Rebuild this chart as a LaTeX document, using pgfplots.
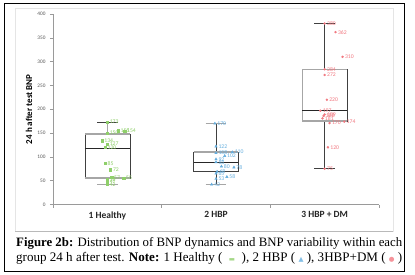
\documentclass[border=0pt]{standalone}
\usepackage{pgfplots}
\pgfplotsset{compat=1.18}
\usepackage{pgfplotstable}
\usepackage{fontspec}
\setmainfont{Carlito}
\newfontfamily\capfont{Liberation Serif}
\newfontfamily\symfont{DejaVu Sans}
\definecolor{hgreen}{HTML}{8FCF6A}
\definecolor{hblue}{HTML}{64AEDF}
\definecolor{hred}{HTML}{F27880}
\definecolor{boxdark}{HTML}{404040}
\definecolor{boxgray}{HTML}{A6A6A6}
\definecolor{axgray}{HTML}{9A9A9A}
\definecolor{tickgray}{HTML}{595959}

\pgfplotstableread{
x y lab
1.00 173 173
1.00 150 150
1.10 155 155
1.16 154 154
0.95 134 134
1.00 127 127
0.98 120 120
0.98 86 85
1.03 73 72
1.04 57 57
1.15 56 55
1.00 52 52
1.00 47 47
1.00 42 42
}\healthy

\pgfplotstableread{
x y lab
1.99 170 170
2.00 122 122
2.15 110 110
2.00 108 108
2.08 102 102
2.00 95 92
2.00 89 88
2.05 80 80
2.165 78 78
2.01 69 68
2.00 65 65
2.10 58 58
2.00 54 53
1.96 42 42
}\hbp

\pgfplotstableread{
x y lab
3.00 380 380
3.10 362 362
3.165 310 310
3.00 284 284
3.00 272 272
3.02 220 220
2.96 197 197
3.00 189 189
2.99 186 188
2.98 181 181
3.18 174 174
3.045 171 170
3.03 120 120
3.00 75 75
}\hbpdm

\begin{document}
\begin{tikzpicture}
\useasboundingbox (0pt,0pt) rectangle (415pt,274pt);
\fill[white] (0pt,0pt) rectangle (415pt,274pt);
\draw[gray!20, line width=0.5pt] (15pt,43pt) rectangle (393pt,266pt);
\draw[gray!55, line width=0.6pt] (15pt,43pt) -- (393pt,43pt);
\draw[black, line width=0.9pt] (4pt,3pt) rectangle (404pt,271pt);

\begin{axis}[
  at={(53pt,69.5pt)}, anchor=south west,
  scale only axis, width=326pt, height=190.5pt,
  xmin=0.5, xmax=3.5, ymin=0, ymax=400,
  axis lines*=left,
  axis line style={axgray, line width=0.5pt},
  ytick={0,50,...,400},
  xtick={1,2,3},
  xticklabels={1 Healthy, 2 HBP, 3 HBP + DM},
  minor xtick={0.5,1.5,2.5,3.5},
  tick align=outside,
  major tick length=3pt, minor tick length=3pt,
  tick style={axgray, line width=0.5pt},
  major x tick style={draw=none},
  /pgf/number format/assume math mode=true,
  yticklabel style={font=\fontsize{5.3}{6}\selectfont, text=tickgray, xshift=-1pt},
  xticklabel style={font=\bfseries\fontsize{9.5}{10}\selectfont, text=black!85, yshift=-0.5pt},
  ylabel={24 h after test BNP},
  ylabel style={at={(axis description cs:-0.0736,0.5)}, anchor=center, font=\bfseries\fontsize{9}{10}\selectfont},
  clip=false,
]
% whiskers (vertical)
\addplot[boxdark, line width=0.6pt] coordinates {(1,42) (1,55)};
\addplot[boxgray, line width=1.4pt] coordinates {(1,148) (1,173)};
\addplot[boxdark, line width=0.6pt] coordinates {(2,42) (2,69)};
\addplot[boxdark, line width=0.6pt] coordinates {(2,110) (2,170)};
\addplot[boxdark, line width=0.6pt] coordinates {(3,75) (3,175)};
\addplot[boxdark, line width=0.6pt] coordinates {(3,284) (3,380)};
% caps
\addplot[boxdark, line width=0.7pt] coordinates {(0.905,173) (1.095,173)};
\addplot[boxgray, line width=1.4pt] coordinates {(0.905,42) (1.095,42)};
\addplot[boxgray, line width=1.4pt] coordinates {(1.905,170) (2.095,170)};
\addplot[boxgray, line width=1.4pt] coordinates {(1.905,42) (2.095,42)};
\addplot[boxdark, line width=0.7pt] coordinates {(2.905,380) (3.095,380)};
\addplot[boxdark, line width=0.7pt] coordinates {(2.905,75) (3.095,75)};
% boxes
\addplot[boxdark, line width=0.6pt] coordinates {(0.793,55) (1.207,55) (1.207,148) (0.793,148) (0.793,55)};
\addplot[boxdark, line width=0.6pt] coordinates {(1.793,69) (2.207,69) (2.207,110) (1.793,110) (1.793,69)};
\addplot[boxdark, line width=0.6pt] coordinates {(2.793,175) (3.207,175) (3.207,284) (2.793,284) (2.793,175)};
% gray edges
\addplot[boxgray, line width=1.4pt] coordinates {(0.793,148) (1.207,148)};
\addplot[boxgray, line width=1.2pt] coordinates {(0.793,55.8) (1.207,55.8)};
\addplot[boxgray, line width=1.4pt] coordinates {(1.793,110) (2.207,110)};
\addplot[boxgray, line width=1.4pt] coordinates {(2.793,284) (3.207,284)};
\addplot[boxgray, line width=1.4pt] coordinates {(2.793,175) (3.207,175)};
\addplot[boxgray, line width=1.0pt] coordinates {(2.793,175) (2.793,284)};
% medians
\addplot[black!85, line width=1.1pt] coordinates {(0.793,118) (1.207,118)};
\addplot[black!85, line width=1.0pt] coordinates {(1.793,89) (2.207,89)};
\addplot[black!85, line width=1.0pt] coordinates {(2.793,198) (3.207,198)};
% points
\addplot[only marks, mark=square*, mark size=1.1pt, color=hgreen,
  nodes near coords, point meta=explicit symbolic,
  every node near coord/.append style={anchor=west, xshift=2pt, font=\fontsize{5.7}{6}\selectfont, text=hgreen, inner sep=0.3pt}]
  table[x=x, y=y, meta=lab]{\healthy};
\addplot[only marks, mark=triangle*, mark size=1.4pt, color=hblue,
  nodes near coords, point meta=explicit symbolic,
  every node near coord/.append style={anchor=west, xshift=2pt, font=\fontsize{5.7}{6}\selectfont, text=hblue, inner sep=0.3pt}]
  table[x=x, y=y, meta=lab]{\hbp};
\addplot[only marks, mark=*, mark size=1.0pt, color=hred,
  nodes near coords, point meta=explicit symbolic,
  every node near coord/.append style={anchor=west, xshift=2pt, font=\fontsize{5.7}{6}\selectfont, text=hred, inner sep=0.3pt}]
  table[x=x, y=y, meta=lab]{\hbpdm};
\end{axis}

\node[anchor=west, inner sep=0pt] at (16pt,31pt) {\resizebox{386pt}{!}{\capfont\textbf{Figure 2b:} Distribution of BNP dynamics and BNP variability within each}};
\node[anchor=west, inner sep=0pt] at (16pt,16pt) {\resizebox{386pt}{!}{\capfont group 24 h after test. \textbf{Note:} 1 Healthy (\ \ {\color{hgreen!80}\symfont\tiny ▬}\ \ ), 2 HBP ( {\color{hblue!80}\symfont\tiny ▲} ), 3HBP+DM ( {\color{hred!80}\symfont\tiny ●} )}};
\end{tikzpicture}
\end{document}
